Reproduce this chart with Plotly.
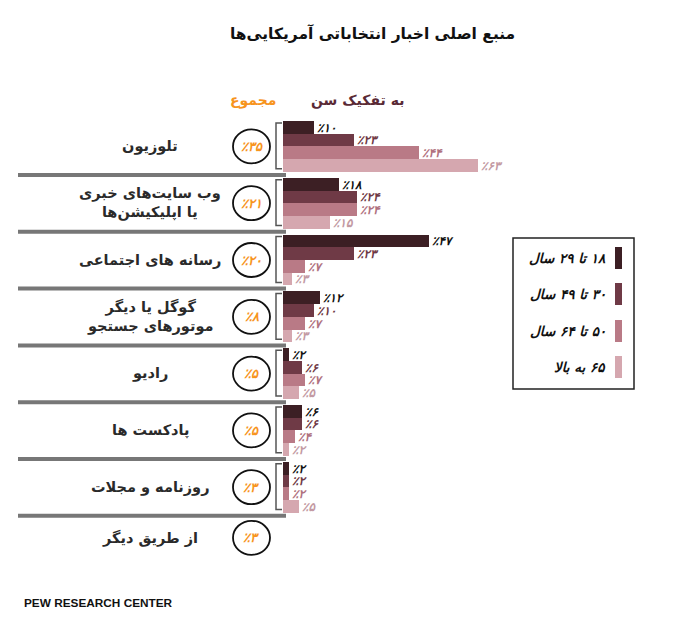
import plotly.graph_objects as go

# ---------------- data ----------------
categories = ["تلوزیون", "وب سایت\u200cهای خبری<br>یا اپلیکیشن\u200cها", "رسانه های اجتماعی",
              "گوگل یا دیگر<br>موتورهای جستجو", "رادیو", "پادکست ها", "روزنامه و مجلات", "از طریق دیگر"]
totals = [35, 21, 20, 8, 5, 5, 3, 3]
age_groups = ["۱۸ تا ۲۹ سال", "۳۰ تا ۴۹ سال", "۵۰ تا ۶۴ سال", "۶۵ به بالا"]
age_18_29 = [10, 18, 47, 12, 2, 6, 2]
age_30_49 = [23, 24, 23, 10, 6, 6, 2]
age_50_64 = [44, 24, 7, 7, 7, 4, 2]
age_65_up = [63, 15, 3, 3, 5, 2, 5]
series = [age_18_29, age_30_49, age_50_64, age_65_up]

# ---------------- style ----------------
bar_colors = ["#3c1f24", "#6f3a46", "#b97a86", "#d5a7af"]
label_colors = ["#111111", "#6f3a46", "#b07280", "#c39aa3"]
ORANGE = "#f7941d"
FONT = "DejaVu Sans"
W, H = 700, 623
OFF = 8  # page body margin
ROW0, PITCH, BAR_H = 121, 56.8, 12.7
X0_PX, PX_PER = 283, 3.1
XMAX = 100

def fa(n):
    return str(n).translate(str.maketrans("0123456789", "۰۱۲۳۴۵۶۷۸۹"))

RLM = "\u200f"

fig = go.Figure()
n_rows = len(age_18_29)
for k, vals in enumerate(series):
    ys = [ROW0 + r * PITCH + (k + 0.5) * BAR_H for r in range(n_rows)]
    fig.add_trace(go.Bar(
        x=vals, y=ys, orientation="h", width=BAR_H,
        marker=dict(color=bar_colors[k], line=dict(width=0)),
        text=["٪" + fa(v) for v in vals], textposition="outside",
        outsidetextfont=dict(family=FONT, size=12, color=label_colors[k], weight="bold", style="italic"),
        constraintext="none", cliponaxis=False, showlegend=False, hoverinfo="skip",
        name=age_groups[k],
    ))

shapes = []
annotations = []

def row_center(r):
    if r < n_rows:
        return ROW0 + r * PITCH + 2 * BAR_H
    return ROW0 + (n_rows - 1) * PITCH + 54 + 22

for r in range(n_rows):
    top = ROW0 + r * PITCH
    shapes.append(dict(type="line", xref="x2", yref="y", x0=18, x1=286, y0=top + 54, y1=top + 54,
                       line=dict(color="#777777", width=4)))
    shapes.append(dict(type="path", xref="x2", yref="y",
                       path=f"M 282 {top+2} L 276 {top+2} L 276 {top+4*BAR_H-3} L 282 {top+4*BAR_H-3}",
                       line=dict(color="#555555", width=1.5)))

for r, cat in enumerate(categories):
    cy = row_center(r)
    annotations.append(dict(xref="x2", yref="y", x=150, y=cy, text=cat, showarrow=False,
                            xanchor="center", yanchor="middle", align="center",
                            font=dict(family=FONT, size=14.5, color="#2a2a2a", weight="bold")))
    shapes.append(dict(type="circle", xref="x2", yref="y", x0=233, x1=270, y0=cy - 17, y1=cy + 17,
                       line=dict(color="#111111", width=1.8)))
    annotations.append(dict(xref="x2", yref="y", x=251.5, y=cy, text="٪" + fa(totals[r]), showarrow=False,
                            xanchor="center", yanchor="middle",
                            font=dict(family=FONT, size=13, color=ORANGE, weight="bold", style="italic")))

annotations.append(dict(xref="x2", yref="y", x=372, y=33, text="منبع اصلی اخبار انتخاباتی آمریکایی\u200cها",
                        showarrow=False, xanchor="center", yanchor="middle",
                        font=dict(family=FONT, size=15.5, color="#111111", weight="bold")))
annotations.append(dict(xref="x2", yref="y", x=253, y=100, text="مجموع", showarrow=False,
                        xanchor="center", yanchor="middle",
                        font=dict(family=FONT, size=14, color=ORANGE, weight="bold")))
annotations.append(dict(xref="x2", yref="y", x=357, y=100, text="به تفکیک سن", showarrow=False,
                        xanchor="center", yanchor="middle",
                        font=dict(family=FONT, size=14, color="#5a2a36", weight="bold")))

shapes.append(dict(type="rect", xref="x2", yref="y", x0=513, x1=634, y0=238, y1=389,
                   line=dict(color="#222222", width=1.5), fillcolor="rgba(0,0,0,0)"))
leg_y = [258, 294, 331, 367]
for k, name in enumerate(age_groups):
    shapes.append(dict(type="rect", xref="x2", yref="y", x0=615, x1=622, y0=leg_y[k] - 11, y1=leg_y[k] + 11,
                       line=dict(width=0), fillcolor=bar_colors[k]))
    annotations.append(dict(xref="x2", yref="y", x=608, y=leg_y[k], text=RLM + name + RLM, showarrow=False,
                            xanchor="right", yanchor="middle",
                            font=dict(family=FONT, size=13.5, color="#111111", weight="bold", style="italic")))

annotations.append(dict(xref="x2", yref="y", x=22, y=603, text="PEW RESEARCH CENTER", showarrow=False,
                        xanchor="left", yanchor="middle",
                        font=dict(family="Liberation Sans", size=11.8, color="#111111", weight="bold")))

fig.update_layout(
    width=W, height=H, margin=dict(l=0, r=0, t=0, b=0),
    paper_bgcolor="white", plot_bgcolor="rgba(0,0,0,0)",
    barmode="overlay", bargap=0,
    xaxis=dict(range=[0, XMAX], domain=[(X0_PX - OFF) / W, (X0_PX - OFF + XMAX * PX_PER) / W],
               anchor="y", visible=False, fixedrange=True),
    xaxis2=dict(range=[OFF, W + OFF], domain=[0, 1], anchor="y", visible=False, fixedrange=True),
    yaxis=dict(range=[H + OFF, OFF], domain=[0, 1], anchor="x2", visible=False, fixedrange=True),
    shapes=shapes, annotations=annotations,
)

fig.write_html("out.html")
